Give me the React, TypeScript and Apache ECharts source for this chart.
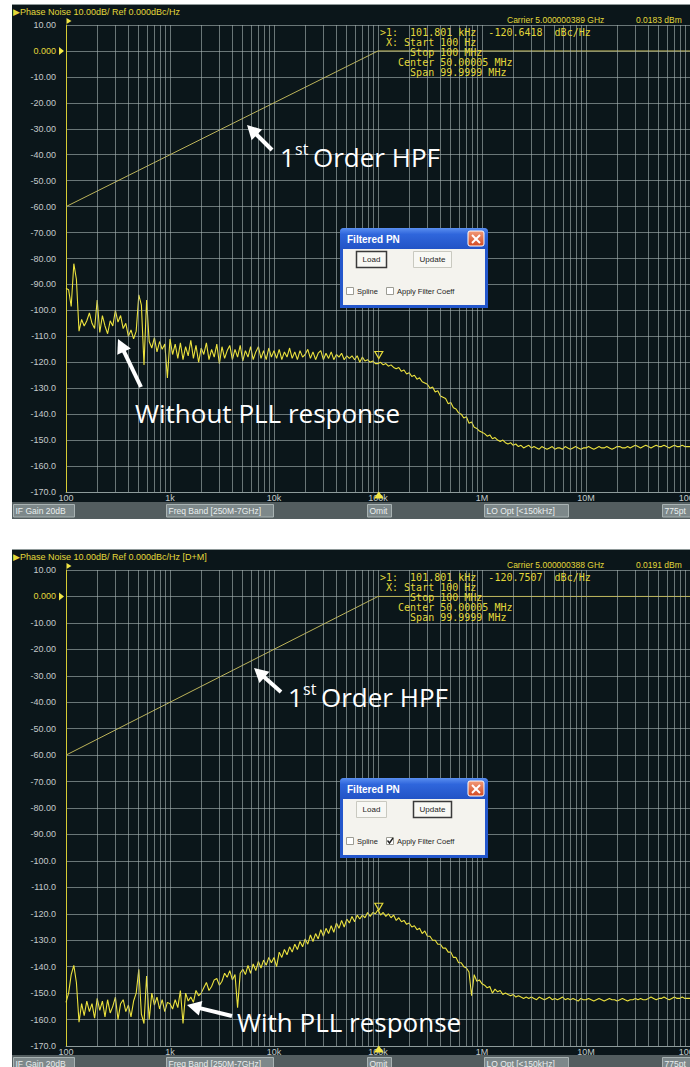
import React, { useEffect, useRef } from 'react';
import * as echarts from 'echarts';

// ---------- data ----------
const X_TICK_LABELS = ['100', '1k', '10k', '100k', '1M', '10M', '100M'];
const F_MIN = 100;
const F_MAX = 1e8;
const Y_MIN = -170;
const Y_MAX = 10;
const Y_STEP = 10;
const DECADES = [1e2, 1e3, 1e4, 1e5, 1e6, 1e7];
const MINOR_MULTS = [2, 3, 4, 5, 6, 7, 8, 9];
// 40 sample points per decade (mantissas)
const MANTISSA = [
  1.0, 1.059, 1.122, 1.189, 1.259, 1.334, 1.413, 1.496, 1.585, 1.679,
  1.778, 1.884, 1.995, 2.113, 2.239, 2.371, 2.512, 2.661, 2.818, 2.985,
  3.162, 3.35, 3.548, 3.758, 3.981, 4.217, 4.467, 4.732, 5.012, 5.309,
  5.623, 5.957, 6.31, 6.683, 7.079, 7.499, 7.943, 8.414, 8.913, 9.441,
];

const HPF_F = [100, 1e5, 1e8];
const HPF_DB = [-60, 0, 0];

const PN_WITHOUT = [
  // 100 Hz - 1 kHz
  -91.5, -92, -98.5, -82, -88, -108, -103.5, -106, -104, -101,
  -105, -107, -96, -108.5, -102, -106, -109, -104, -106, -100,
  -104.5, -102, -107, -105, -110, -107.5, -111, -108, -94, -98,
  -121, -96, -112, -114.5, -110.5, -116, -112, -115, -113, -126,
  // 1 kHz - 10 kHz
  -111, -117, -113, -118.5, -112.5, -119, -114, -117.5, -111.5, -118.5,
  -113.5, -120, -114.5, -117, -112.5, -119, -115, -118, -113, -120.5,
  -114, -118.5, -115.5, -113.5, -119, -115, -118, -113.5, -119.5, -115.5,
  -118, -114, -119, -116, -114, -118.5, -115.5, -119, -114.5, -118,
  // 10 kHz - 100 kHz
  -115.5, -118.5, -115, -119, -116, -118, -114.5, -118.5, -116, -119,
  -115.5, -118, -117, -115, -118.5, -116, -119, -116.5, -115.5, -119,
  -116.5, -118.5, -116, -119, -117, -118, -116.5, -119, -117.5, -118.5,
  -117.5, -119, -117.5, -120, -118, -119.5, -119, -120, -119.5, -120.5,
  // 100 kHz - 1 MHz
  -120.5, -120, -121, -120.5, -121.5, -121, -122, -122.5, -122, -123.5,
  -123, -124.5, -124, -125.5, -125, -126.5, -126, -127.5, -128, -128.5,
  -130, -129.5, -131.5, -131, -133, -133.5, -134, -136, -135.5, -137.5,
  -138, -139.5, -140, -141.5, -141, -143.5, -143, -145, -145.5, -146.5,
  // 1 MHz - 10 MHz
  -147, -147.5, -148.5, -148, -149.5, -149, -150, -150.5, -150, -151,
  -151.5, -151, -152, -151.5, -152.5, -152, -153, -152.5, -152, -153,
  -152.5, -153, -153.5, -152.5, -153, -153.5, -153, -152.5, -153.5, -153,
  -153, -153.5, -152.5, -153, -153.5, -153, -152.5, -153, -153.5, -153,
  // 10 MHz - 100 MHz
  -153, -152.5, -153, -153.5, -153, -152.5, -153, -153, -152.5, -153,
  -153.5, -153, -152.5, -152.5, -153, -153, -152.5, -153, -152.5, -152,
  -152.5, -153, -152.5, -152, -152.5, -153, -152.5, -152, -152.5, -152.5,
  -152, -152.5, -153, -152.5, -152, -152.5, -152.5, -152, -152.5, -152.5,
  -152.5,
];

const PN_WITH = [
  // 100 Hz - 1 kHz
  -153.5, -150, -143, -139.5, -146, -161, -154, -158.5, -153, -157,
  -154, -159.5, -152, -156.5, -153, -159, -152.5, -157.5, -155, -151.5,
  -160, -154, -152.5, -157, -154.5, -159, -153, -150, -141, -158,
  -161.5, -143.5, -160, -150, -154.5, -151.5, -156, -152.5, -157, -153.5,
  // 1 kHz - 10 kHz
  -154, -156, -152.5, -155.5, -149, -161.5, -150, -153, -151.5, -153.5,
  -149, -151, -150, -148, -146, -149, -147.5, -145, -144.5, -147,
  -145.5, -142.5, -144, -141.5, -145, -143, -155.5, -142.5, -141, -143,
  -139.5, -142.5, -139, -141.5, -138, -140.5, -137.5, -139.5, -136.5, -138.5,
  // 10 kHz - 100 kHz
  -136.5, -140, -134.5, -136.5, -133.5, -135.5, -132.5, -134.5, -131.5, -133.5,
  -130.5, -132.5, -129.5, -131.5, -128, -130.5, -127.5, -129.5, -126, -128.5,
  -125.5, -127.5, -124.5, -127, -123.5, -125.5, -122.5, -125, -122, -123.5,
  -121, -123, -120.5, -122, -120.5, -121.5, -119.5, -121, -119.5, -120,
  // 100 kHz - 1 MHz
  -118.5, -120.5, -119.5, -121, -120, -121.5, -120.5, -122.5, -121.5, -123,
  -122.5, -124, -123.5, -125, -124.5, -126, -125.5, -127.5, -126.5, -128.5,
  -128.5, -130, -130, -131.5, -131.5, -133, -133, -134.5, -134.5, -136.5,
  -136.5, -138.5, -138.5, -140, -140.5, -142, -151, -143, -145.5, -145,
  // 1 MHz - 10 MHz
  -146.5, -147, -148, -147.5, -150, -148.5, -149.5, -149, -150.5, -150,
  -150.5, -151, -150.5, -151.5, -151, -151.5, -152, -151.5, -152, -151.5,
  -152, -152.5, -151.5, -152, -152.5, -152, -151.5, -152.5, -152, -152.5,
  -152, -151.5, -152.5, -152, -152.5, -152, -152.5, -153, -152, -152.5,
  // 10 MHz - 100 MHz
  -152.5, -152, -152.5, -153, -152.5, -152, -152.5, -153, -152.5, -152,
  -152.5, -152.5, -153, -152.5, -152, -152.5, -153, -152.5, -152.5, -152,
  -152.5, -152, -152.5, -152.5, -152, -151.5, -152, -152.5, -152, -152,
  -151.5, -152, -152.5, -152, -151.5, -152, -152, -151.5, -152, -152,
  -152,
];

const MARKER_F = 101801;
const MARKER_DB_TOP = -120.6418;
const MARKER_DB_BOTTOM = -120.7507;

// ---------- styles ----------
const BG = '#0b161a';
const GRID_COLOR = 'rgba(165,178,178,0.62)';
const YEL = '#e2d83a';
const TRACE = '#ece23e';
const HPF_COLOR = '#bdb45a';
const LABEL = '#c4caca';
const UI = 'Liberation Sans, Arial, sans-serif';
const MONO = 'DejaVu Sans Mono, monospace';
const ANN = 'Open Sans, sans-serif';

const FREQS = DECADES.flatMap((d) => MANTISSA.map((m) => d * m)).concat([F_MAX]);
const MINOR_F = DECADES.flatMap((d) => MINOR_MULTS.map((m) => d * m));

function txt(x, y, text, font, fill, align = 'left', vAlign = 'middle', extra = {}) {
  return {
    type: 'text',
    z: 60,
    style: {
      x, y, text, font, fill,
      align, textAlign: align, verticalAlign: vAlign, textVerticalAlign: vAlign,
      ...extra,
    },
  };
}

function arrow(tx, ty, sx, sy) {
  const dx = tx - sx, dy = ty - sy;
  const len = Math.hypot(dx, dy);
  const ux = dx / len, uy = dy / len;
  const hl = 14, hw = 7.5;
  const bx = tx - ux * hl, by = ty - uy * hl;
  const px = -uy, py = ux;
  return [
    { type: 'line', z: 60, shape: { x1: sx, y1: sy, x2: bx + ux * 2, y2: by + uy * 2 }, style: { stroke: '#ffffff', lineWidth: 4 } },
    {
      type: 'polygon', z: 60,
      shape: { points: [[tx, ty], [bx + px * hw, by + py * hw], [bx - px * hw, by - py * hw]] },
      style: { fill: '#ffffff' },
    },
  ];
}

function panel(dy, frameH, sbY, title, carrier, dbm, readout) {
  const els: any[] = [
    { type: 'rect', z: -10, shape: { x: 12, y: 4 + dy, width: 678, height: frameH }, style: { fill: BG } },
    { type: 'line', z: -9, shape: { x1: 12, y1: 4.5 + dy, x2: 690, y2: 4.5 + dy }, style: { stroke: '#8e9898', lineWidth: 1 } },
    { type: 'rect', z: -9, shape: { x: 12, y: sbY, width: 678, height: 17 }, style: { fill: '#535d5f' } },
    txt(13, 11.5 + dy, title, `9px ${UI}`, YEL),
    txt(507, 20 + dy, carrier, `8.5px ${UI}`, YEL),
    txt(636, 20 + dy, dbm, `8.5px ${UI}`, YEL),
    txt(380, 28 + dy, readout, `10px ${MONO}`, YEL, 'left', 'top', { lineHeight: 9.8 }),
  ];
  const boxes: [number, number, string][] = [
    [13, 74, 'IF Gain 20dB'],
    [166, 273, 'Freq Band [250M-7GHz]'],
    [367, 391, 'Omit'],
    [484, 568, 'LO Opt [<150kHz]'],
    [662, 704, '775pt'],
  ];
  boxes.forEach(([a, b, t]) => {
    els.push({
      type: 'rect', z: -8,
      shape: { x: a + 0.5, y: sbY + 2.5, width: b - a, height: 12.5 },
      style: { fill: '#7d888a', stroke: '#a9b3b3', lineWidth: 1 },
    });
    els.push(txt(a + 2.5, sbY + 9, t, `8.5px ${UI}`, '#e9eeee'));
  });
  return els;
}

function dialog(dy, updateDefault, applyChecked) {
  const els: any[] = [
    { type: 'rect', z: 70, shape: { x: 340, y: 228 + dy, width: 148, height: 80, r: [4, 4, 0, 0] }, style: { fill: '#2457cc' } },
    {
      type: 'rect', z: 71,
      shape: { x: 340, y: 228 + dy, width: 148, height: 21, r: [4, 4, 0, 0] },
      style: {
        fill: new echarts.graphic.LinearGradient(0, 0, 0, 1, [
          { offset: 0, color: '#5a8ff0' },
          { offset: 0.3, color: '#2f66dc' },
          { offset: 1, color: '#2253c6' },
        ]),
      },
    },
    { ...txt(347, 239 + dy, 'Filtered PN', `bold 10px ${UI}`, '#ffffff'), z: 72 },
    {
      type: 'rect', z: 72,
      shape: { x: 468, y: 231 + dy, width: 16, height: 15, r: 2 },
      style: {
        fill: new echarts.graphic.LinearGradient(0, 0, 0, 1, [
          { offset: 0, color: '#f29a78' },
          { offset: 1, color: '#d24a22' },
        ]),
        stroke: '#ffffff', lineWidth: 1,
      },
    },
    { type: 'line', z: 73, shape: { x1: 472, y1: 235 + dy, x2: 480, y2: 243 + dy }, style: { stroke: '#fff', lineWidth: 2 } },
    { type: 'line', z: 73, shape: { x1: 480, y1: 235 + dy, x2: 472, y2: 243 + dy }, style: { stroke: '#fff', lineWidth: 2 } },
    { type: 'rect', z: 71, shape: { x: 343, y: 249 + dy, width: 142, height: 56 }, style: { fill: '#f4f3ee' } },
  ];
  const btn = (x, w, label, isDefault) => {
    els.push({
      type: 'rect', z: 72,
      shape: { x: x + 0.5, y: 251.5 + dy, width: w, height: 16 },
      style: { fill: '#f8f8f4', stroke: isDefault ? '#3a3a3a' : '#c9c9c0', lineWidth: isDefault ? 1.5 : 1 },
    });
    els.push({ ...txt(x + w / 2 + 0.5, 259.5 + dy, label, `8px ${UI}`, '#1e1e1e', 'center'), z: 73 });
  };
  btn(356, 30, 'Load', !updateDefault);
  btn(413, 38, 'Update', updateDefault);
  const cb = (x, label, checked) => {
    els.push({
      type: 'rect', z: 72,
      shape: { x: x + 0.5, y: 287.5 + dy, width: 7, height: 7 },
      style: { fill: '#ffffff', stroke: '#9c9c94', lineWidth: 1 },
    });
    if (checked) {
      els.push({
        type: 'polyline', z: 73,
        shape: { points: [[x + 1.5, 290.5 + dy], [x + 3.5, 293 + dy], [x + 7, 288 + dy]] },
        style: { stroke: '#222', lineWidth: 1.4, fill: null },
      });
    }
    els.push({ ...txt(x + 11, 291.5 + dy, label, `7.5px ${UI}`, '#1e1e1e'), z: 73 });
  };
  cb(346, 'Spline', false);
  cb(386, 'Apply Filter Coeff', applyChecked);
  return els;
}

function hpfLabel(x, y) {
  return [
    txt(x, y, '1', `26px ${ANN}`, '#ffffff'),
    txt(x + 15, y - 8, 'st', `16px ${ANN}`, '#ffffff'),
    txt(x + 33, y, 'Order HPF', `26px ${ANN}`, '#ffffff'),
  ];
}

function buildOption() {
  const grids = [
    { left: 66, top: 25, width: 624, height: 467 },
    { left: 66, top: 570, width: 624, height: 476 },
  ];
  const xLabel = (v) => {
    const k = Math.round(Math.log10(v)) - 2;
    return X_TICK_LABELS[k] ?? '';
  };
  const yLabel = (v) => {
    if (v === 0) return '{y|0.000}';
    if (v > -100) return v.toFixed(2);
    return v.toFixed(1);
  };
  const traces = [PN_WITHOUT, PN_WITH];
  const markers = [MARKER_DB_TOP, MARKER_DB_BOTTOM];
  const series: any[] = [];
  grids.forEach((_, i) => {
    series.push({
      type: 'line', xAxisIndex: i, yAxisIndex: i, data: [], z: 1, silent: true,
      markLine: {
        silent: true, symbol: ['none', 'none'], label: { show: false },
        lineStyle: { color: GRID_COLOR, type: 'solid', width: 1 },
        data: MINOR_F.map((f) => ({ xAxis: f })),
      },
    });
    series.push({
      type: 'line', xAxisIndex: i, yAxisIndex: i, z: 3, showSymbol: false, silent: true,
      data: HPF_F.map((f, j) => [f, HPF_DB[j]]),
      lineStyle: { color: HPF_COLOR, width: 1 },
    });
    series.push({
      type: 'line', xAxisIndex: i, yAxisIndex: i, z: 4, showSymbol: false, silent: true,
      data: FREQS.map((f, j) => [f, traces[i][j]]),
      lineStyle: { color: TRACE, width: 1.1 },
      markPoint: {
        silent: true, label: { show: false },
        data: [
          {
            coord: [MARKER_F, markers[i]], symbol: 'triangle', symbolRotate: 180,
            symbolSize: [8, 7], symbolOffset: [0, -9],
            itemStyle: { color: 'rgba(0,0,0,0)', borderColor: YEL, borderWidth: 1.2 },
          },
          {
            coord: [MARKER_F, Y_MIN], symbol: 'triangle', symbolSize: [10, 7], symbolOffset: [0, 3],
            itemStyle: { color: '#f2e646' },
          },
          {
            coord: [F_MIN, 0], symbol: 'triangle', symbolRotate: -90, symbolSize: [8, 5], symbolOffset: [-4.5, 0],
            itemStyle: { color: '#f2e646' },
          },
          {
            coord: [F_MIN, Y_MAX], symbol: 'triangle', symbolRotate: -90, symbolSize: [6, 5], symbolOffset: [3, -4],
            itemStyle: { color: '#f2e646' },
          },
        ],
      },
    });
  });

  const readout = (db) =>
    `>1:  101.801 kHz  ${db}  dBc/Hz\n X: Start 100 Hz\n     Stop 100 MHz\n   Center 50.00005 MHz\n     Span 99.9999 MHz`;

  const graphic: any[] = [
    ...panel(0, 515, 502, '▶Phase Noise 10.00dB/ Ref 0.000dBc/Hz', 'Carrier 5.000000389 GHz', '0.0183 dBm',
      readout(MARKER_DB_TOP.toFixed(4))),
    ...panel(545, 520, 1055, '▶Phase Noise 10.00dB/ Ref 0.000dBc/Hz [D+M]', 'Carrier 5.000000388 GHz', '0.0191 dBm',
      readout(MARKER_DB_BOTTOM.toFixed(4))),
    ...dialog(0, false, false),
    ...dialog(550, true, true),
    ...arrow(247, 125, 272, 150),
    ...hpfLabel(280, 157),
    ...arrow(118, 339, 141, 387),
    txt(135, 413, 'Without PLL response', `26px ${ANN}`, '#ffffff'),
    ...arrow(254, 668, 281, 692),
    ...hpfLabel(288, 697),
    ...arrow(187, 1005, 232, 1016),
    txt(237, 1022, 'With PLL response', `26px ${ANN}`, '#ffffff'),
  ];

  return {
    animation: false,
    backgroundColor: '#ffffff',
    grid: grids.map((g) => ({ ...g, show: false, containLabel: false, outerBoundsMode: 'none' })),
    xAxis: grids.map((_, i) => ({
      type: 'log', logBase: 10, gridIndex: i, min: F_MIN, max: F_MAX, splitNumber: 6,
      axisLine: { show: true, onZero: false, lineStyle: { color: GRID_COLOR } },
      axisTick: { show: false },
      splitLine: { show: true, lineStyle: { color: GRID_COLOR, width: 1 } },
      axisLabel: { formatter: xLabel, color: LABEL, fontSize: 9, fontFamily: UI, margin: 1, showMaxLabel: true, hideOverlap: false },
    })),
    yAxis: grids.map((_, i) => ({
      type: 'value', gridIndex: i, min: Y_MIN, max: Y_MAX, interval: Y_STEP,
      axisLine: { show: true, lineStyle: { color: '#d6cc34', width: 1 } },
      axisTick: { show: false },
      splitLine: { show: true, lineStyle: { color: GRID_COLOR, width: 1 } },
      axisLabel: {
        formatter: yLabel, color: LABEL, fontSize: 9, fontFamily: UI, margin: 10,
        rich: { y: { color: YEL, fontSize: 9, fontFamily: UI } },
      },
    })),
    series,
    graphic: { elements: graphic },
  };
}

export default function App() {
  const ref = useRef<HTMLDivElement>(null);
  useEffect(() => {
    if (!ref.current) return;
    const chart = echarts.init(ref.current, null, { renderer: 'svg' });
    chart.setOption(buildOption() as any);
    return () => chart.dispose();
  }, []);
  return (
    <div
      ref={ref}
      style={{ position: 'absolute', left: 0, top: 0, width: 690, height: 1067 }}
    />
  );
}
